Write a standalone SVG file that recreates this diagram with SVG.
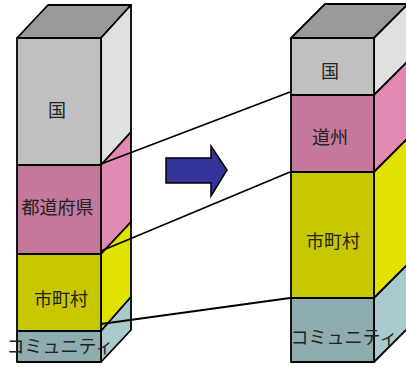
<svg xmlns="http://www.w3.org/2000/svg" width="406" height="367" viewBox="0 0 406 367">
<style>
.s{stroke:#000;stroke-width:1.8;stroke-linejoin:round}
.top{fill:#999999}
.gf{fill:#c0c0c0}.gs{fill:#e0e0e0}
.pf{fill:#c4789c}.ps{fill:#e08ab4}
.yf{fill:#c8c800}.ys{fill:#e2e200}
.bf{fill:#8fadb0}.bs{fill:#a9c9cc}
.t{font-family:"Noto Sans CJK JP","Noto Sans CJK SC",sans-serif;font-size:18px;fill:#222;text-anchor:middle}
.c{fill:none;stroke:#000;stroke-width:1.8}
</style>
<rect width="406" height="367" fill="#fff"/>
<g id="left-column">
<polygon class="s top" points="17,38 48,5 131,5 101,38"/>
<polygon class="s gs" points="101,38 131,5 131,132 101,165"/>
<polygon class="s ps" points="101,165 131,132 131,222 101,254"/>
<polygon class="s ys" points="101,254 131,222 131,297 101,331"/>
<polygon class="s bs" points="101,331 131,297 131,330 101,362"/>
<g id="left-kuni"><rect class="s gf" x="17" y="38" width="84" height="127"/><text class="t" x="57" y="116.5">国</text></g>
<g id="left-todofuken"><rect class="s pf" x="17" y="165" width="84" height="89"/><text class="t" x="57.5" y="213.5">都道府県</text></g>
<g id="left-shichoson"><rect class="s yf" x="17" y="254" width="84" height="77"/><text class="t" x="61" y="305.5">市町村</text></g>
<g id="left-community"><rect class="s bf" x="17" y="331" width="84" height="31"/><text class="t" x="60" y="353">コミュニティ</text></g>
</g>
<g id="right-column">
<polygon class="s top" points="291,38 325,4 408,4 374,38"/>
<polygon class="s gs" points="374,38 408,4 408,61 374,95"/>
<polygon class="s ps" points="374,95 408,61 408,138 374,172"/>
<polygon class="s ys" points="374,172 408,138 408,264 374,298"/>
<polygon class="s bs" points="374,298 408,264 408,328 374,362"/>
<g id="right-kuni"><rect class="s gf" x="291" y="38" width="83" height="57"/><text class="t" x="330" y="77.5">国</text></g>
<g id="right-doshu"><rect class="s pf" x="291" y="95" width="83" height="77"/><text class="t" x="330" y="143.5">道州</text></g>
<g id="right-shichoson"><rect class="s yf" x="291" y="172" width="83" height="126"/><text class="t" x="333" y="247.5">市町村</text></g>
<g id="right-community"><rect class="s bf" x="291" y="298" width="83" height="64"/><text class="t" x="344" y="343.5">コミュニティ</text></g>
</g>
<g id="connectors">
<line class="c" x1="101" y1="164" x2="290" y2="92"/>
<line class="c" x1="101" y1="251" x2="290" y2="172"/>
<line class="c" x1="101" y1="324" x2="290" y2="298"/>
</g>
<g id="arrow">
<polygon points="166,158 211,158 211,146 227,170 211,196 211,183 166,183" fill="#333399" stroke="#000" stroke-width="1.5" stroke-linejoin="miter"/>
</g>
</svg>
